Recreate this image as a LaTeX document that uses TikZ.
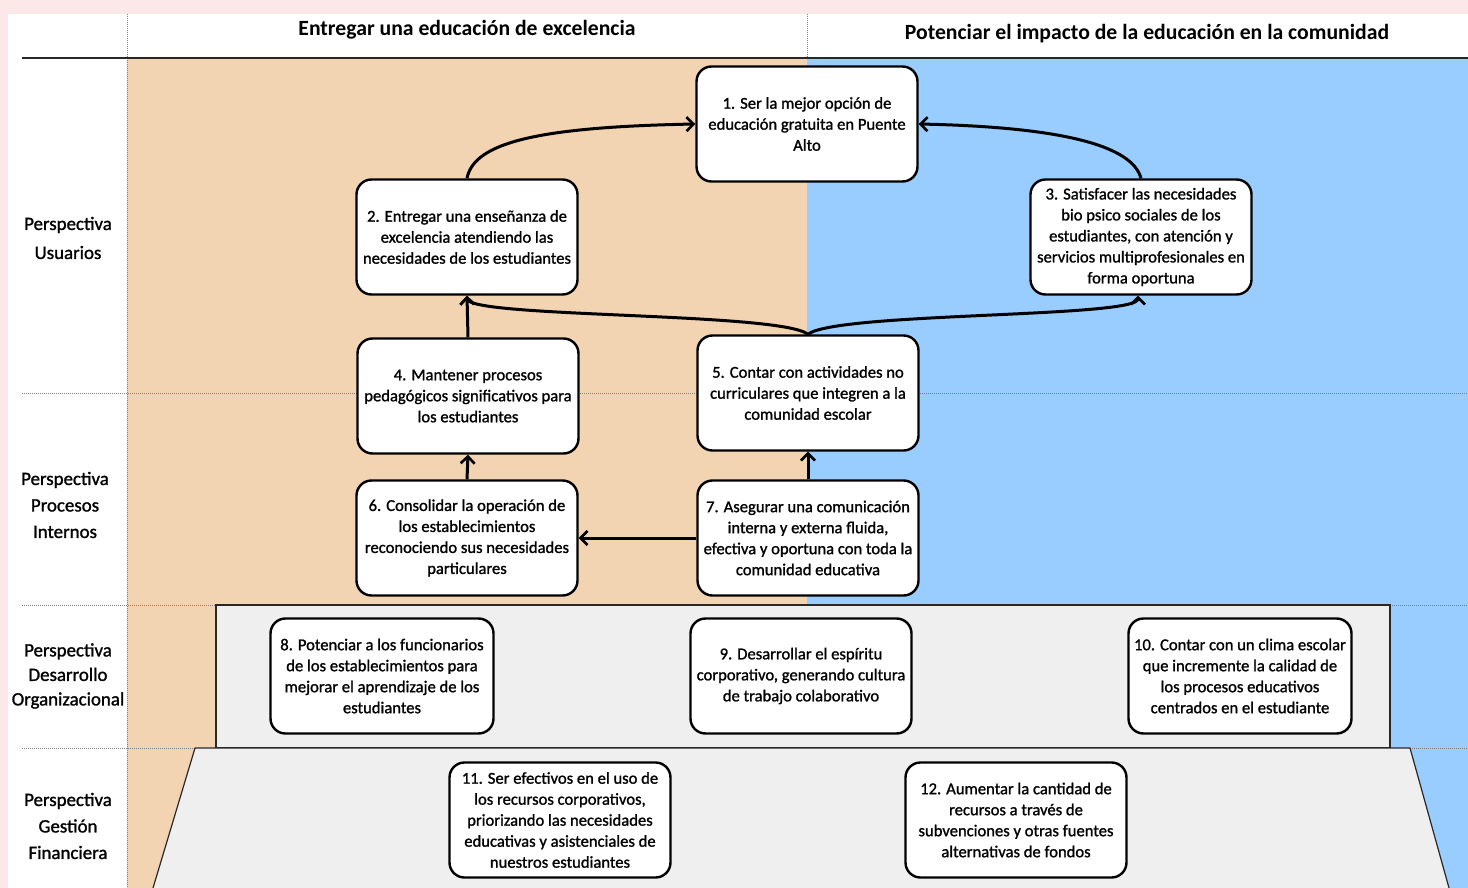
\documentclass[tikz,border=0pt]{standalone}
\usepackage{fontspec}
\setmainfont{Carlito}
\newfontfamily\heavyfont[FakeBold=1.2]{Carlito}
\usetikzlibrary{arrows.meta}
\definecolor{pinkbg}{RGB}{252,232,232}
\definecolor{peach}{RGB}{242,211,178}
\definecolor{skyb}{RGB}{153,204,255}
\definecolor{lgray}{RGB}{239,239,239}
\definecolor{frame}{RGB}{40,40,40}
\tikzset{
  obj/.style={draw=black, line width=2.4pt, fill=white, rounded corners=15pt,
    minimum width=221pt, minimum height=115pt, align=center,
    font=\heavyfont\fontsize{16.6}{21}\selectfont, inner sep=1pt},
  rowlab/.style={align=center, font=\heavyfont\fontsize{18.9}{27}\selectfont},
  headlab/.style={font=\bfseries\fontsize{21.7}{24}\selectfont},
  conn/.style={line width=3pt, -{Straight Barb[length=7pt,width=14pt,line width=2.6pt]}},
  sep/.style={draw=gray, line width=0.8pt, dash pattern=on 1pt off 1pt},
}
\begin{document}
\begin{tikzpicture}[x=1pt,y=-1pt]
\useasboundingbox (0,0) rectangle (1468,888);
% background
\fill[pinkbg] (0,0) rectangle (1468,888);
\fill[white] (8,14) rectangle (1468,888);
\fill[peach] (127,58) rectangle (807,888);
\fill[skyb] (807,58) rectangle (1468,888);
% separators
\draw[sep] (127,14) -- (127,888);
\draw[sep] (807,14) -- (807,58);
\draw[sep] (22,393) -- (1468,393);
\draw[sep] (22,605) -- (1468,605);
\draw[sep] (22,748) -- (1468,748);
\draw[frame, line width=1.4pt] (22,58) -- (1468,58);
% gray bands
\draw[frame, line width=1.2pt, fill=lgray] (216,605) rectangle (1390,748);
\draw[frame, line width=1.2pt, fill=lgray] (153,888) -- (195,748) -- (1410,748) -- (1449,888);
% headers
\node[headlab] (h1) at (467,30) {Entregar una educación de excelencia};
\node[headlab] (h2) at (1147,34) {Potenciar el impacto de la educación en la comunidad};
% row labels
\node[rowlab, font=\heavyfont\fontsize{18.9}{29}\selectfont] (r1) at (68,238) {Perspectiva\\Usuarios};
\node[rowlab, font=\heavyfont\fontsize{18.9}{26.5}\selectfont] (r2) at (65,505) {Perspectiva\\Procesos\\Internos};
\node[rowlab, font=\heavyfont\fontsize{18.9}{24.5}\selectfont] (r3) at (68,676) {Perspectiva\\Desarrollo\\Organizacional};
\node[rowlab, font=\heavyfont\fontsize{18.9}{26.5}\selectfont] (r4) at (68,826) {Perspectiva\\Gestión\\Financiera};
% objectives
\node[obj] (o1) at (807,124) {1. Ser la mejor opción de\\educación gratuita en Puente\\Alto};
\node[obj] (o2) at (467,237) {2. Entregar una enseñanza de\\excelencia atendiendo las\\necesidades de los estudiantes};
\node[obj] (o3) at (1141,237) {3. Satisfacer las necesidades\\bio psico sociales de los\\estudiantes, con atención y\\servicios multiprofesionales en\\forma oportuna};
\node[obj] (o4) at (468,396) {4. Mantener procesos\\pedagógicos significativos  para\\los estudiantes};
\node[obj] (o5) at (808,393) {5. Contar con actividades no\\curriculares que integren a la\\comunidad escolar};
\node[obj] (o6) at (467,538) {6. Consolidar  la operación de\\los establecimientos\\reconociendo sus necesidades\\particulares};
\node[obj] (o7) at (808,538) {7. Asegurar una comunicación\\interna y externa fluida,\\efectiva y oportuna con toda la\\comunidad educativa};
\node[obj, minimum width=223pt] (o8) at (382,676) {8. Potenciar a los funcionarios\\de los establecimientos para\\mejorar el aprendizaje de los\\estudiantes};
\node[obj] (o9) at (801,676) {9. Desarrollar  el espíritu\\corporativo, generando cultura\\de trabajo colaborativo};
\node[obj, minimum width=223pt] (o10) at (1240,676) {10. Contar con un clima escolar\\que incremente la calidad de\\los procesos educativos\\centrados en el estudiante};
\node[obj] (o11) at (560,820) {11. Ser efectivos en el uso de\\los recursos corporativos,\\priorizando las  necesidades\\educativas y asistenciales de\\nuestros estudiantes};
\node[obj] (o12) at (1016,820) {12. Aumentar la cantidad  de\\recursos a través de\\subvenciones y otras fuentes\\alternativas de fondos};
% connectors
\draw[conn] (o2.north) .. controls (474,142) and (540,127) .. (o1.west);
\draw[conn] (o3.north) .. controls (1132,145) and (1060,127) .. (o1.east);
\draw[conn] (o4.north) -- (o2.south);
\draw[conn] (o5.north) .. controls (780,312) and (468,318) .. (o2.south);
\draw[conn] (o5.north) .. controls (836,312) and (1138,318) .. ([xshift=-3pt]o3.south);
\draw[conn] (o6.north) -- (o4.south);
\draw[conn] (o7.north) -- (o5.south);
\draw[conn] (o7.west) -- (o6.east);
\end{tikzpicture}
\end{document}
